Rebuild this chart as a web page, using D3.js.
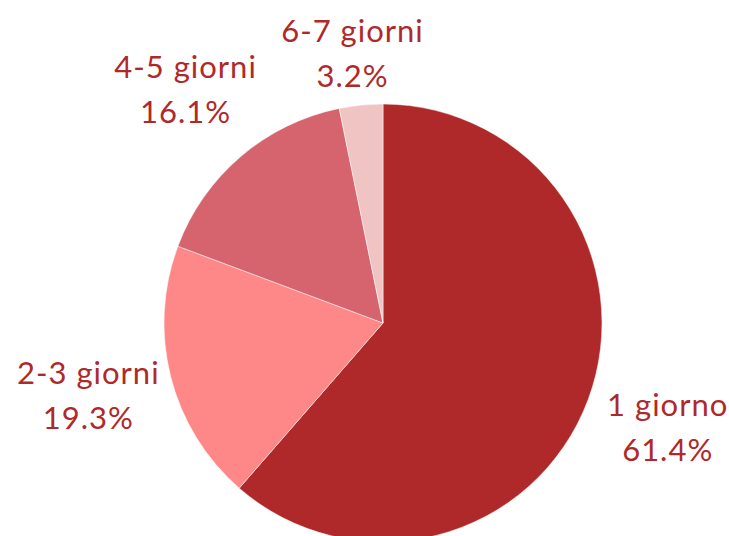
<!DOCTYPE html>
<html>
<head>
<meta charset="utf-8">
<script src="https://cdn.jsdelivr.net/npm/d3@7"></script>
<style>
    body { margin: 0; background: #fff; }
    svg { display: block; }
    text { font-family: Lato, "Open Sans", sans-serif; letter-spacing: 1px; }
</style>
</head>
<body>
<svg></svg>
<script>
const WIDTH = 729;
const HEIGHT = 536;

// data
const categories = ['1 giorno', '2-3 giorni', '4-5 giorni', '6-7 giorni'];
const values = [61.4, 19.3, 16.1, 3.2];
const colors = ['#b0292a', '#fe8888', '#d5646f', '#f0c4c3'];

const centerX = 383;
const centerY = 323;
const radius = 219;
const labelRadius = 304;
const textColor = '#b0292a';

let svg = d3.select('svg')
    .attr('width', WIDTH)
    .attr('height', HEIGHT);

let pie = d3.pie()
    .sort(null)
    .value(d => d.value);

let arc = d3.arc()
    .innerRadius(0)
    .outerRadius(radius);

let labelArc = d3.arc()
    .innerRadius(labelRadius)
    .outerRadius(labelRadius);

let data = categories.map((c, i) => ({ name: c, value: values[i], color: colors[i] }));
let arcs = pie(data);

let g = svg.append('g')
    .attr('transform', `translate(${centerX}, ${centerY})`);

g.append('g')
    .classed('slices', true)
    .selectAll('path')
    .data(arcs)
    .enter()
    .append('path')
        .attr('d', arc)
        .attr('fill', d => d.data.color)
        .attr('stroke', '#fff')
        .attr('stroke-width', 0.5);

// labels, two lines each, kept inside the canvas at the top
let labels = g.append('g')
    .classed('labels', true)
    .selectAll('text')
    .data(arcs)
    .enter()
    .append('text')
        .attr('text-anchor', 'middle')
        .attr('fill', textColor)
        .attr('font-size', 31)
        .attr('transform', d => {
            const c = labelArc.centroid(d);
            const y = Math.max(c[1] + 8, 64 - centerY);
            return `translate(${c[0]}, ${y})`;
        });

labels.append('tspan')
    .attr('x', 0)
    .attr('y', -22)
    .text(d => d.data.name);

labels.append('tspan')
    .attr('x', 0)
    .attr('y', 23)
    .text(d => d.data.value.toFixed(1) + '%');
</script>
</body>
</html>
